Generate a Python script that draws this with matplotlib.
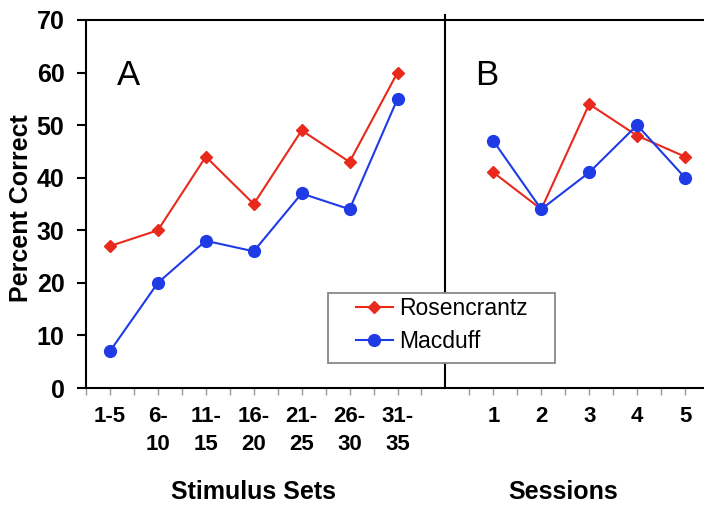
import matplotlib
matplotlib.use("Agg")
import matplotlib.pyplot as plt
import matplotlib.transforms as mtransforms
from matplotlib.patches import Rectangle
import numpy as np

plt.rcParams['font.family'] = ['Liberation Sans', 'DejaVu Sans']

set_labels = ['1-5', '6-\n10', '11-\n15', '16-\n20', '21-\n25', '26-\n30', '31-\n35']
session_labels = ['1', '2', '3', '4', '5']

ros_sets = [27, 30, 44, 35, 49, 43, 60]
mac_sets = [7, 20, 28, 26, 37, 34, 55]
ros_sessions = [41, 34, 54, 48, 44]
mac_sessions = [47, 34, 41, 50, 40]

red = '#e8291c'
blue = '#1f3be6'

fig = plt.figure(figsize=(7.04, 5.08), dpi=100)
ax = fig.add_axes([86/704, 1-388/508, 623/704, 368/508])

xs_sets = np.arange(len(set_labels))
xs_sess = np.arange(len(session_labels)) + len(set_labels) + 1

ax.plot(xs_sets, ros_sets, color=red, marker='D', markersize=6, lw=1.5, label='Rosencrantz', clip_on=False)
ax.plot(xs_sets, mac_sets, color=blue, marker='o', markersize=8.5, lw=1.5, label='Macduff', clip_on=False)
ax.plot(xs_sess, ros_sessions, color=red, marker='D', markersize=6, lw=1.5, clip_on=False)
ax.plot(xs_sess, mac_sessions, color=blue, marker='o', markersize=8.5, lw=1.5, clip_on=False)

# divider between the two panels
ax.plot([len(set_labels), len(set_labels)], [0, 71], color='black', lw=1.5, clip_on=False)

ax.set_xlim(-0.5, 12.5)
ax.set_ylim(0, 70)
ax.set_yticks(range(0, 71, 10))
ax.set_xticks(list(xs_sets) + list(xs_sess))
ax.set_xticklabels(set_labels + session_labels, fontsize=16, fontweight='bold', linespacing=1.45)
ax.set_xticks(np.arange(-0.5, 12.6, 1.0), minor=True)
ax.tick_params(axis='x', which='both', direction='out', length=5, width=1, color='#999999', pad=8)
ax.tick_params(axis='y', direction='out', length=6.5, width=1.5, pad=9)
for lab in ax.get_yticklabels():
    lab.set_fontsize(18)
    lab.set_fontweight('bold')
for lab in ax.get_xticklabels():
    lab.set_verticalalignment('top')

for side in ['left', 'bottom', 'top']:
    ax.spines[side].set_linewidth(1.5)
ax.spines['right'].set_visible(False)

ax.set_ylabel('Percent Correct', fontsize=18, fontweight='bold', va='center')
ax.yaxis.set_label_coords(-0.104, 0.49)

trans = mtransforms.blended_transform_factory(ax.transData, fig.transFigure)
ax.text(3.0, 1-492/508, 'Stimulus Sets', transform=trans, ha='center', va='center',
        fontsize=18, fontweight='bold')
ax.text(9.45, 1-492/508, 'Sessions', transform=trans, ha='center', va='center',
        fontsize=18, fontweight='bold')

ax.text(0.39, 59.5, 'A', fontsize=25, ha='center', va='center')
ax.text(7.86, 59.5, 'B', fontsize=25, ha='center', va='center')

# legend box
box = Rectangle((328/704, 1-363/508), 227/704, 70/508, transform=fig.transFigure,
                facecolor='white', edgecolor='#888888', lw=1.3, zorder=4, clip_on=False)
ax.add_patch(box)
leg = ax.legend(loc='center left', bbox_to_anchor=(356/704, 1-325/508), bbox_transform=fig.transFigure,
                borderaxespad=0, borderpad=0, frameon=False,
                fontsize=16.5, handlelength=1.6, handletextpad=0.3, labelspacing=0.45)
leg.set_zorder(5)

fig.savefig('out.png', dpi=100)
